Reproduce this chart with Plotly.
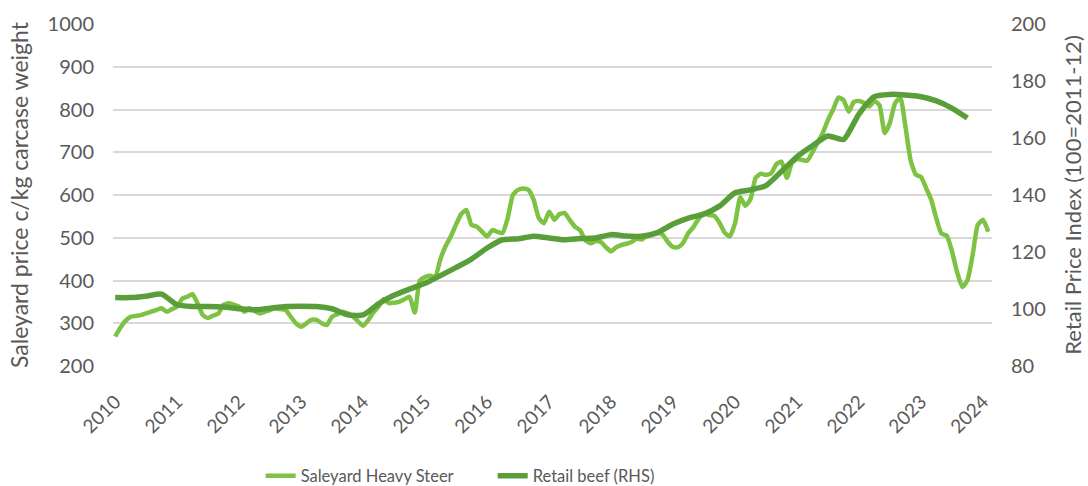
import pandas as pd
import plotly.graph_objects as go

# Monthly saleyard heavy steer price, c/kg carcase weight, Jan 2010 onwards
saleyard_start = "2010-01-01"
saleyard_price = [
    269, 290, 305, 315, 317, 319, 323, 327, 331, 335, 327, 333,   # 2010
    339, 358, 362, 368, 347, 319, 312, 318, 323, 343, 347, 343,   # 2011
    339, 327, 335, 329, 323, 327, 331, 335, 333, 331, 315, 300,   # 2012
    292, 300, 308, 308, 300, 296, 315, 321, 327, 323, 316, 305,   # 2013
    294, 308, 325, 339, 356, 347, 348, 350, 356, 362, 325, 400,   # 2014
    408, 411, 408, 450, 480, 503, 530, 555, 565, 530, 526, 515,   # 2015
    503, 518, 514, 511, 545, 600, 612, 615, 612, 589, 546, 534,   # 2016
    561, 542, 555, 558, 542, 526, 518, 495, 487, 492, 490, 478,   # 2017
    468, 478, 483, 486, 490, 498, 496, 505, 508, 511, 507, 490,   # 2018
    478, 478, 488, 511, 525, 545, 557, 553, 551, 535, 512, 503,   # 2019
    534, 595, 575, 590, 640, 650, 647, 651, 672, 678, 640, 675,   # 2020
    684, 682, 680, 700, 722, 745, 775, 800, 828, 822, 795, 818,   # 2021
    820, 815, 807, 820, 810, 745, 768, 815, 828, 760, 680, 648,   # 2022
    642, 615, 590, 545, 510, 505, 470, 420, 385, 400, 460, 530,   # 2023
    542, 514,                                                     # 2024
]

# Quarterly retail beef price index (100 = 2011-12), Jan 2010 onwards
retail_start = "2010-01-01"
retail_index = [
    104.0, 104.0, 104.5, 105.2,   # 2010
    101.5, 100.9, 100.9, 100.7,   # 2011
    100.1, 99.7, 100.3, 100.9,    # 2012
    101.0, 100.9, 100.1, 98.0,    # 2013
    97.9, 101.8, 104.8, 107.0,    # 2014
    109.0, 111.7, 114.5, 117.5,   # 2015
    121.4, 124.3, 124.6, 125.5,   # 2016
    124.9, 124.3, 124.7, 124.9,   # 2017
    126.1, 125.6, 125.5, 126.8,   # 2018
    129.8, 131.9, 133.3, 136.1,   # 2019
    140.8, 141.8, 143.3, 148.3,   # 2020
    153.5, 157.3, 160.7, 159.5,   # 2021
    168.5, 174.5, 175.3, 175.1,   # 2022
    174.5, 173.0, 170.5, 167.0,   # 2023
]

year_ticks = list(range(2010, 2025))

saleyard_dates = pd.date_range(saleyard_start, periods=len(saleyard_price), freq="MS")
retail_dates = pd.date_range(retail_start, periods=len(retail_index), freq="3MS")

LIGHT = "#7dc242"
DARK = "#5a9e3a"
TEXT = "#595959"
FONT = "Lato"

fig = go.Figure()
fig.add_trace(go.Scatter(
    x=saleyard_dates, y=saleyard_price, name="Saleyard Heavy Steer",
    mode="lines", line=dict(color=LIGHT, width=4.5, shape="spline", smoothing=0.5),
    yaxis="y",
))
fig.add_trace(go.Scatter(
    x=retail_dates, y=retail_index, name="Retail beef (RHS)",
    mode="lines", line=dict(color=DARK, width=5.5, shape="spline", smoothing=0.6),
    yaxis="y2",
))

fig.update_layout(
    width=1088, height=486,
    margin=dict(l=113, r=96, t=24, b=120, autoexpand=False),
    paper_bgcolor="white", plot_bgcolor="white",
    font=dict(family=FONT, color=TEXT, size=20),
    showlegend=True,
    legend=dict(
        orientation="h", x=0.168, xanchor="left", y=-0.322, yanchor="middle",
        font=dict(size=16.5, color=TEXT), tracegroupgap=0,
        entrywidth=187, entrywidthmode="pixels",
    ),
    xaxis=dict(
        type="date", automargin=False,
        range=["2009-12-19", "2024-02-23"],
        tickvals=[f"{y}-01-01" for y in year_ticks],
        ticktext=[str(y) for y in year_ticks],
        tickangle=-45, showgrid=False, zeroline=False, showline=False,
        tickfont=dict(size=19, color=TEXT), ticklabelstandoff=20,
    ),
    yaxis=dict(
        automargin=False,
        range=[200, 1000], dtick=100, showgrid=True, gridcolor="#d9d9d9", gridwidth=2,
        zeroline=False, showline=False, tickfont=dict(size=20, color=TEXT),
        ticklabelstandoff=18,
        title=dict(text="Saleyard price c/kg carcase weight", font=dict(size=23, color=TEXT), standoff=12),
    ),
    yaxis2=dict(
        automargin=False,
        range=[80, 200], dtick=20, overlaying="y", side="right", showgrid=False,
        zeroline=False, showline=False, tickfont=dict(size=20, color=TEXT),
        ticklabelstandoff=18,
        title=dict(text="Retail Price Index (100=2011-12)", font=dict(size=22, color=TEXT), standoff=20),
    ),
)

fig.write_html("out.html")
